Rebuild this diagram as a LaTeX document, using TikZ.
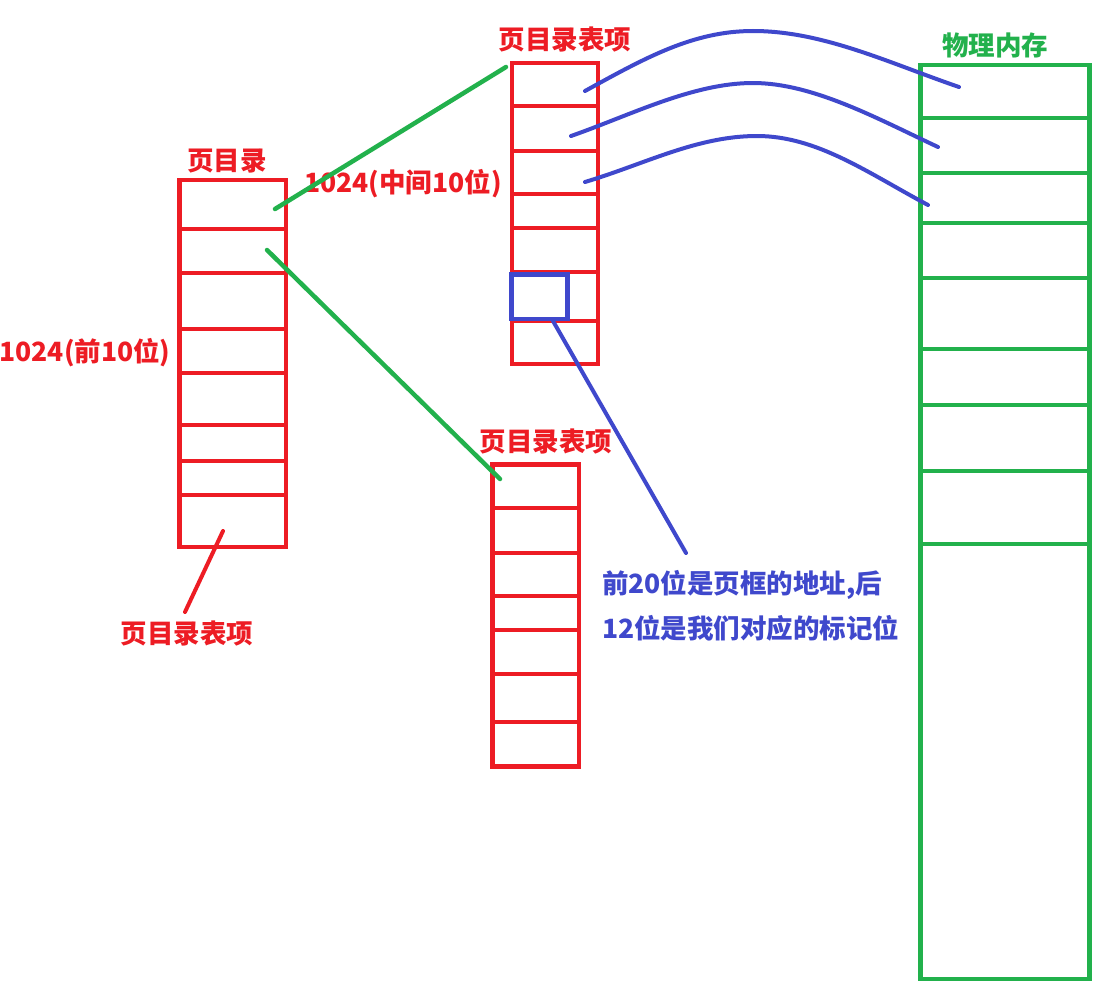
\documentclass[tikz,border=0pt]{standalone}
\usepackage{fontspec}
\newfontfamily\cjk{Noto Sans CJK SC}
\definecolor{pred}{HTML}{ED1C24}
\definecolor{pgreen}{HTML}{22B14C}
\definecolor{pblue}{HTML}{3F48CC}
\tikzset{
  lbl/.style={font=\cjk\bfseries\fontsize{26.5}{31}\selectfont, inner sep=0pt, text height=22.3pt, text depth=2.1pt},
  rbox/.style={draw=pred, line width=4.5pt, inner sep=0pt, outer sep=0pt, anchor=north west},
  gbox/.style={draw=pgreen, line width=4.5pt, inner sep=0pt, outer sep=0pt, anchor=north west},
  bbox/.style={draw=pblue, line width=4.5pt, inner sep=0pt, outer sep=0pt, anchor=north west},
  rline/.style={draw=pred, line width=4.5pt},
  gline/.style={draw=pgreen, line width=4.5pt},
  gstroke/.style={draw=pgreen, line width=4.5pt, line cap=round},
  rstroke/.style={draw=pred, line width=4pt, line cap=round},
  bstroke/.style={draw=pblue, line width=4pt, line cap=round},
}
\begin{document}
\begin{tikzpicture}[x=1pt,y=-1pt]
\useasboundingbox (0,0) rectangle (1107,990);
\fill[white] (0,0) rectangle (1107,990);

% page directory
\node[rbox, minimum width=106.5pt, minimum height=367pt] (pd) at (179.5,180) {};
\foreach \yy in {229,273,329,373,425,461,495}
  \draw[rline] (pd.west |- 0,\yy) -- (pd.east |- 0,\yy);
\node[lbl, text=pred] (pdlbl) at (227,160) {页目录};
\node[lbl, text=pred] (pdcnt) at (85,351) {1024(前10位)};

% upper page table
\node[rbox, minimum width=86pt, minimum height=301pt] (pt1) at (512,63) {};
\foreach \yy in {106,151,194,228,272,321}
  \draw[rline] (pt1.west |- 0,\yy) -- (pt1.east |- 0,\yy);
\node[lbl, text=pred] (pt1lbl) at (565,39) {页目录表项};
\node[lbl, text=pred] (pt1cnt) at (403,182) {1024(中间10位)};
\node[bbox, minimum width=56pt, minimum height=44.5pt] (entry) at (511.5,274.5) {};

% lower page table
\node[rbox, minimum width=86.5pt, minimum height=302pt] (pt2) at (492.5,464.5) {};
\foreach \yy in {508,553,596,630,674,722}
  \draw[rline] (pt2.west |- 0,\yy) -- (pt2.east |- 0,\yy);
\node[lbl, text=pred] (pt2lbl) at (546,441) {页目录表项};

% physical memory
\node[gbox, minimum width=169pt, minimum height=914pt] (mem) at (920.5,65) {};
\foreach \yy in {118,173,223,278,349,405,471,544}
  \draw[gline] (mem.west |- 0,\yy) -- (mem.east |- 0,\yy);
\node[lbl, text=pgreen] (memlbl) at (995,45) {物理内存};

% bottom label
\node[lbl, text=pred] (pdelbl) at (187,633) {页目录表项};

% blue note
\node[lbl, text=pblue, anchor=west] (note1) at (602,583) {前20位是页框的地址,后};
\node[lbl, text=pblue, anchor=west] (note2) at (602,628) {12位是我们对应的标记位};

% connector end points
\coordinate (g1a) at (275,209);
\coordinate (g1b) at (506,67);
\coordinate (g2a) at (267,250);
\coordinate (g2b) at (500,479);
\coordinate (r1a) at (223,531);
\coordinate (r1b) at (185,612);
\coordinate (b0a) at (553,321);
\coordinate (b0b) at (686,553);
\coordinate (c1a) at (585,91);
\coordinate (c1p) at (753,31);
\coordinate (c1b) at (959,87);
\coordinate (c2a) at (571,136);
\coordinate (c2p) at (753,83);
\coordinate (c2b) at (938,147);
\coordinate (c3a) at (585,182);
\coordinate (c3p) at (757,136);
\coordinate (c3b) at (928,205);

\draw[gstroke] (g1a) -- (g1b);
\draw[gstroke] (g2a) -- (g2b);
\draw[rstroke] (r1a) -- (r1b);
\draw[bstroke] (b0a) -- (b0b);

\draw[bstroke] (c1a) .. controls (645,58) and (693,31) .. (c1p)
               .. controls (823,31) and (889,63) .. (c1b);
\draw[bstroke] (c2a) .. controls (631,115) and (693,83) .. (c2p)
               .. controls (813,83) and (878,119) .. (c2b);
\draw[bstroke] (c3a) .. controls (645,164) and (697,136) .. (c3p)
               .. controls (817,136) and (868,173) .. (c3b);
\end{tikzpicture}
\end{document}
